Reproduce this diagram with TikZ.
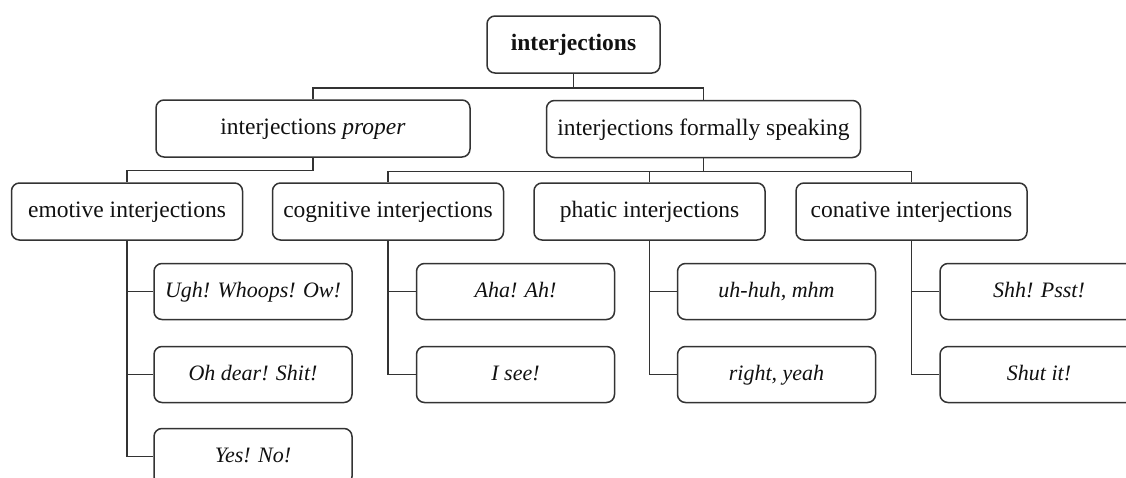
\documentclass[tikz,border=0pt]{standalone}
\usepackage{fontspec}
\setmainfont{Liberation Serif}
\definecolor{edge}{HTML}{333333}
\definecolor{ink}{HTML}{111111}
\begin{document}
\begin{tikzpicture}[x=1pt,y=-1pt,
  every node/.style={font=\fontsize{23.5}{28}\selectfont, text=ink},
  box/.style={draw=edge, line width=1.5pt, rounded corners=8pt, minimum height=57pt, inner sep=0pt, text height=14pt, text depth=2pt, fill=white},
  toptype/.style={box, minimum width=173pt},
  midtype/.style={box, minimum width=314pt},
  kindtype/.style={box, minimum width=231pt},
  extype/.style={box, minimum width=198pt, minimum height=56pt, font=\fontsize{22}{26}\selectfont\itshape},
  link/.style={draw=edge, line width=1.5pt}]
\useasboundingbox (0,0) rectangle (1126,477);
\clip (0,0) rectangle (1126,477);
\fill[white] (0,0) rectangle (1126,477);

% root and first split
\node[toptype] (root) at (573.5,44.5) {\bfseries interjections};
\node[midtype] (proper) at (313,128.5) {interjections \textit{proper}};
\node[midtype] (formal) at (703.5,129) {interjections formally speaking};

% the four kinds
\node[kindtype] (emotive) at (127,211.5) {emotive interjections};
\node[kindtype] (cognitive) at (388,211.5) {cognitive interjections};
\node[kindtype] (phatic) at (649.5,211.5) {phatic interjections};
\node[kindtype] (conative) at (911.5,211.5) {conative interjections};

% examples
\node[extype] (emo1) at (253,291.5) {Ugh! Whoops! Ow!};
\node[extype] (emo2) at (253,374.5) {Oh dear! Shit!};
\node[extype] (emo3) at (253,456.5) {Yes! No!};
\node[extype] (cog1) at (515.5,291.5) {Aha! Ah!};
\node[extype] (cog2) at (515.5,374.5) {I see!};
\node[extype] (pha1) at (776.5,291.5) {uh-huh, mhm};
\node[extype] (pha2) at (776.5,374.5) {right, yeah};
\node[extype] (con1) at (1039,291.5) {Shh! Psst!};
\node[extype] (con2) at (1039,374.5) {Shut it!};

% tree connectors
\draw[link] (root.south) -- ++(0,14) -| (proper.north);
\draw[link] (root.south) -- ++(0,14) -| (formal.north);
\draw[link] (proper.south) -- ++(0,12.5) -| (emotive.north);
\draw[link] (formal.south) -- ++(0,13) -| (cognitive.north);
\draw[link] (formal.south) -- ++(0,13) -| (phatic.north);
\draw[link] (formal.south) -- ++(0,13) -| (conative.north);

\draw[link] (emotive.south) |- (emo1.west);
\draw[link] (emotive.south) |- (emo2.west);
\draw[link] (emotive.south) |- (emo3.west);
\draw[link] (cognitive.south) |- (cog1.west);
\draw[link] (cognitive.south) |- (cog2.west);
\draw[link] (phatic.south) |- (pha1.west);
\draw[link] (phatic.south) |- (pha2.west);
\draw[link] (conative.south) |- (con1.west);
\draw[link] (conative.south) |- (con2.west);
\end{tikzpicture}
\end{document}
